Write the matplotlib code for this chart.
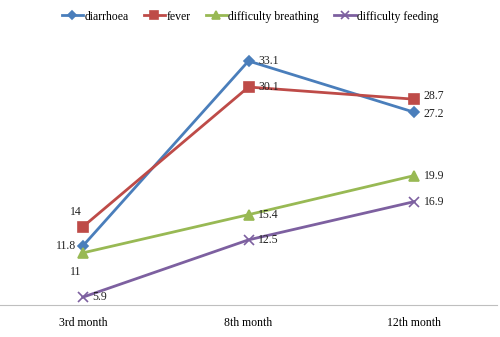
import matplotlib
matplotlib.use("Agg")
import matplotlib.pyplot as plt

categories = ["3rd month", "8th month", "12th month"]
diarrhoea = [11.8, 33.1, 27.2]
fever = [14, 30.1, 28.7]
breathing = [11, 15.4, 19.9]
feeding = [5.9, 12.5, 16.9]

plt.rcParams["font.family"] = ["Liberation Serif", "DejaVu Serif"]

fig = plt.figure(figsize=(5.0, 3.37), dpi=100)
ax = fig.add_axes([0.0, 0.095, 0.994, 0.773])

x = [0, 1, 2]
series = [
    ("diarrhoea", diarrhoea, "#4A7EBB", "D", 5.5),
    ("fever", fever, "#BE4B48", "s", 6.5),
    ("difficulty breathing", breathing, "#98B954", "^", 6.5),
    ("difficulty feeding", feeding, "#7D60A0", "x", 7),
]
for name, vals, col, mk, ms in series:
    ax.plot(x, vals, color=col, lw=2, marker=mk, ms=ms, mec=col, mfc=col,
            mew=1.2, label=name)

fs = 8.5
# data labels (offsets in points)
offs = {
    "diarrhoea": [(-12, 0, "center"), (7, 0, "left"), (7, -1, "left")],
    "fever": [(-5, 11, "center"), (7, 0, "left"), (7, 2, "left")],
    "difficulty breathing": [(-5, -14, "center"), (7, 0, "left"), (7, 0, "left")],
    "difficulty feeding": [(7, 0, "left"), (7, 0, "left"), (7, 0, "left")],
}
for name, vals, col, mk, ms in series:
    for i, v in enumerate(vals):
        dx, dy, ha = offs[name][i]
        ax.annotate("%g" % v, (x[i], v), xytext=(dx, dy), textcoords="offset points",
                    ha=ha, va="center", fontsize=fs, color="#222222")

ax.set_xlim(-0.5, 2.5)
ax.set_ylim(5, 35)
ax.set_xticks(x)
ax.set_xticklabels(categories, fontsize=fs)
ax.tick_params(axis="x", length=0, pad=9)
ax.set_yticks([])
for s in ("top", "left", "right"):
    ax.spines[s].set_visible(False)
ax.spines["bottom"].set_color("#BFBFBF")

fig.legend(loc="upper center", bbox_to_anchor=(0.5, 1.0), ncol=4, frameon=False,
           fontsize=fs, handlelength=1.8, handletextpad=0.1, columnspacing=1.3,
           markerscale=0.8)

fig.savefig("out.png", dpi=100)
